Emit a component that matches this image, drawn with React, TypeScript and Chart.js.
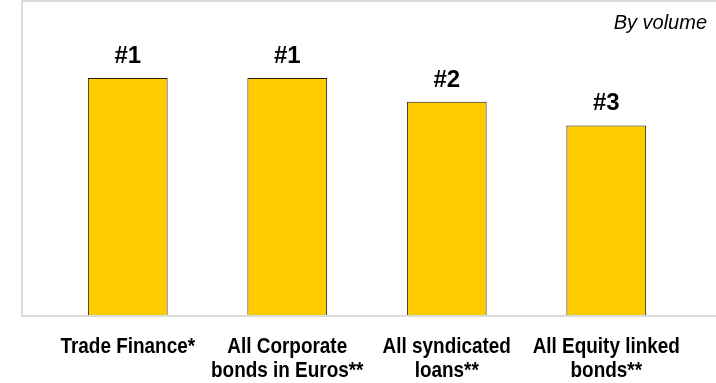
import React, { useEffect, useRef } from "react";
import { Chart, registerables } from "chart.js";

Chart.register(...registerables);

const categories: string[][] = [
  ["Trade Finance*"],
  ["All Corporate", "bonds in Euros**"],
  ["All syndicated", "loans**"],
  ["All Equity linked", "bonds**"],
];
const values: number[] = [100, 100, 90, 80];
const rankLabels: string[] = ["#1", "#1", "#2", "#3"];
const note = "By volume";

const framePlugin = {
  id: "frame",
  beforeDraw(chart: any) {
    const { ctx, chartArea, width } = chart;
    ctx.save();
    ctx.strokeStyle = "#DCDCDC";
    ctx.lineWidth = 2;
    const left = chartArea.left - 26;
    const bottom = chartArea.bottom + 1;
    ctx.beginPath();
    ctx.moveTo(width + 2, 1);
    ctx.lineTo(left, 1);
    ctx.lineTo(left, bottom);
    ctx.lineTo(width + 2, bottom);
    ctx.stroke();
    ctx.restore();
  },
  afterDraw(chart: any) {
    const { ctx, width, chartArea } = chart;
    ctx.save();
    ctx.fillStyle = "#000";
    ctx.font = "italic 20px 'Liberation Sans', Arial, sans-serif";
    ctx.textAlign = "right";
    ctx.textBaseline = "alphabetic";
    ctx.fillText(note, width - 9, 29);

    // category labels (condensed bold)
    const xScale = chart.scales.x;
    ctx.font = "bold 22px 'Liberation Sans', Arial, sans-serif";
    ctx.textAlign = "center";
    const sx = 0.86;
    categories.forEach((lines, i) => {
      const cx = xScale.getPixelForValue(i);
      lines.forEach((line, j) => {
        ctx.save();
        ctx.translate(cx, chartArea.bottom + 38 + j * 23.5);
        ctx.scale(sx, 1);
        ctx.fillText(line, 0, 0);
        ctx.restore();
      });
    });
    ctx.restore();
  },
};

const rankPlugin = {
  id: "ranks",
  afterDatasetsDraw(chart: any) {
    const { ctx } = chart;
    const meta = chart.getDatasetMeta(0);
    ctx.save();
    ctx.fillStyle = "#000";
    ctx.font = "bold 24px 'Liberation Sans', Arial, sans-serif";
    ctx.textAlign = "center";
    ctx.textBaseline = "alphabetic";
    meta.data.forEach((bar: any, i: number) => {
      ctx.fillText(rankLabels[i], bar.x, bar.y - 15);
    });
    ctx.restore();
  },
};

export default function App() {
  const canvasRef = useRef<HTMLCanvasElement | null>(null);

  useEffect(() => {
    if (!canvasRef.current) return;
    const chart = new Chart(canvasRef.current, {
      type: "bar",
      data: {
        labels: categories.map((l) => l.join(" ")),
        datasets: [
          {
            data: values,
            backgroundColor: "#FFCC00",
            borderColor: "#1a1a1a",
            borderWidth: 1,
            barPercentage: 0.5,
            categoryPercentage: 1,
          },
        ],
      },
      options: {
        animation: false,
        responsive: true,
        maintainAspectRatio: false,
        layout: { padding: { left: 48, right: 30, top: 7, bottom: 68 } },
        plugins: {
          legend: { display: false },
          tooltip: { enabled: false },
        },
        scales: {
          x: {
            grid: { display: false, drawTicks: false },
            border: { display: false },
            ticks: { display: false },
          },
          y: {
            display: false,
            min: 0,
            max: 130,
          },
        },
      },
      plugins: [framePlugin, rankPlugin],
    });
    return () => chart.destroy();
  }, []);

  return (
    <div style={{ position: "absolute", left: 0, top: 0, width: 716, height: 383, background: "#fff" }}>
      <canvas ref={canvasRef} />
    </div>
  );
}
